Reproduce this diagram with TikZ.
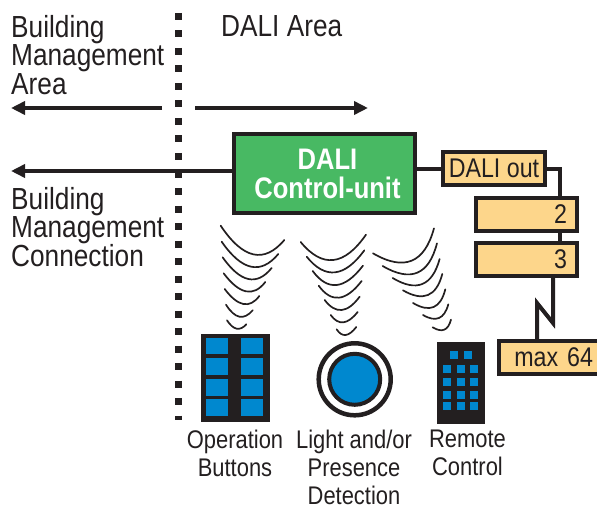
\documentclass[tikz,border=0pt]{standalone}
\usepackage{fontspec}
\setmainfont[FakeStretch=.86]{Liberation Sans}
\usetikzlibrary{arrows.meta,calc}
\definecolor{ink}{HTML}{231F20}
\definecolor{dgreen}{HTML}{48B963}
\definecolor{dorange}{HTML}{FDD68B}
\definecolor{dblue}{HTML}{0088CF}
\tikzset{
  heading/.style={font=\fontsize{30.5}{28.5}\selectfont,text=ink,inner sep=0,align=left,anchor=north west},
  caption/.style={font=\fontsize{25.5}{28}\selectfont,text=ink,inner sep=0,align=center,anchor=north},
  wire/.style={draw=ink,line width=4},
  arrow/.style={wire,-{Triangle[length=14,width=13]}},
  device/.style={draw=ink,line width=4,fill=dorange,inner sep=0,minimum height=33,text=ink,font=\fontsize{27}{27}\selectfont},
  wave/.style={draw=ink,line width=1.7,line cap=round},
  keycap/.style={fill=dblue,draw=none}
}
\begin{document}
\begin{tikzpicture}[x=1pt,y=-1pt]
  \useasboundingbox (0,0) rectangle (597,508);
  % separator
  \draw[ink,line width=7,dash pattern=on 7 off 10.5] (178.5,13) -- (178.5,420);
  % labels
  \node[heading] (bma) at (11,15) {Building\\Management\\Area};
  \node[heading] (dali) at (221,15) {DALI Area};
  \node[heading] (bmc) at (11,187) {Building\\Management\\Connection};
  \coordinate (bmaL) at (11,108);
  \coordinate (bmaR) at (162,108);
  \coordinate (daliL) at (195,108);
  \coordinate (daliR) at (368,108);
  \coordinate (bmcL) at (11,171);
  \draw[arrow] (bmaR) -- (bmaL);
  \draw[arrow] (daliL) -- (daliR);
  % control unit and devices
  \node[draw=ink,line width=4,fill=dgreen,minimum width=181,minimum height=79,inner sep=0] (ctrl) at (324.5,173.5) {};
  \node[text=white,align=center,inner sep=0,font=\fontsize{29.7}{29}\selectfont\bfseries] (ctrltext)
    at ([xshift=3pt]ctrl.center) {DALI\\Control-unit};
  \node[device,minimum width=102] (out) at (494,168.5) {DALI out};
  \node[device,minimum width=101,align=right,text width=81] (two) at (526.5,214.5) {2};
  \node[device,minimum width=101,align=right,text width=81] (three) at (526.5,259.5) {3};
  \node[device,minimum width=104,align=right,text width=84] (max) at (551,357.5) {max 64};
  \coordinate (bus) at (560,196);
  \coordinate (zigA) at (553,323);
  \coordinate (zigB) at (537,303);
  \draw[arrow] (ctrl.west|-bmcL) -- (bmcL);
  \draw[wire] (ctrl.east|-out) -- (out.west);
  \draw[wire] (out.east) -| (bus);
  \draw[wire] (two.south-|bus) -- (three.north-|bus);
  \draw[wire,miter limit=10] (three.south-|zigA) -- (zigA) -- (zigB) -- (max.north-|zigB);
  % signals
  \begin{scope}[shift={(180,210)},x=.3333pt,y=-.3333pt]
    \foreach \ax/\ay/\mx/\my/\bx/\by in {
      122/47/220/133/313/90, 125/95/213/170/295/132, 128/142/205/207/275/174, 131/190/198/244/256/216,
      134/237/190/282/238/258, 138/284/178/320/218/301, 141/331/170/356/199/343,
      362/96/460/150/558/74, 380/140/465/187/553/121, 398/183/470/225/549/167, 416/227/477/263/545/213,
      434/270/485/300/539/260, 452/315/490/337/533/306, 470/358/497/375/529/351,
      579/130/695/152/762/55, 608/168/712/188/771/100, 638/204/727/222/779/147, 669/241/744/255/787/192,
      699/279/761/291/796/238, 729/315/777/324/805/283, 758/352/793/359/813/329}
    {
      \coordinate (peak) at ($2*(\mx,\my)-.5*(\ax,\ay)-.5*(\bx,\by)$);
      \draw[wave] (\ax,\ay) .. controls ($(\ax,\ay)!.667!(peak)$) and ($(\bx,\by)!.667!(peak)$) .. (\bx,\by);
    }
  \end{scope}
  % operation buttons
  \fill[ink] (201,334) rectangle (270,422);
  \foreach \kx in {206,241}
    \foreach \ky/\kh in {338/16,358/17,379/17,399/17}
      \fill[keycap] (\kx,\ky) rectangle ++(22,\kh);
  % detection
  \draw[ink,line width=4.5] (354.7,379.3) circle (36);
  \draw[ink,line width=4,fill=dblue] (354.7,379.3) circle (25.5);
  % remote
  \fill[ink] (437,342) rectangle (485,424);
  \foreach \kx in {450,464}
    \fill[keycap] (\kx,351) rectangle ++(8,8);
  \foreach \kx in {443,457,470}
    \foreach \ky in {365,378,391,402}
      \fill[keycap] (\kx,\ky) rectangle ++(8,8);
  % captions
  \node[caption] (btn) at (235,430) {Operation\\Buttons};
  \node[caption] (det) at (354,430) {Light and/or\\Presence\\Detection};
  \node[caption] (rem) at (467.5,430) {Remote\\Control};
\end{tikzpicture}
\end{document}
